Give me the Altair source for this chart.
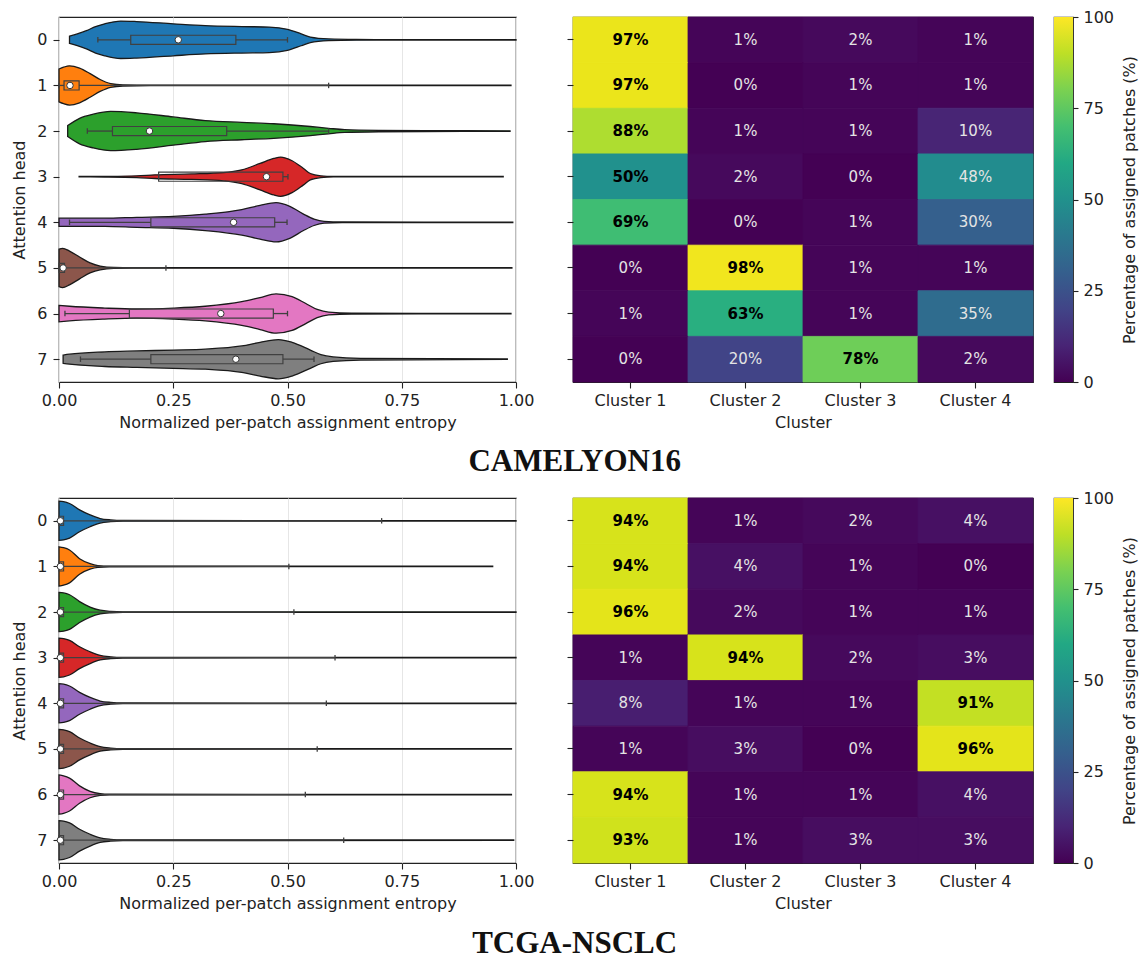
import altair as alt
import pandas as pd

# ---------------- data ----------------
heads = [0, 1, 2, 3, 4, 5, 6, 7]
head_colors = ["#1f77b4", "#ff7f0e", "#2ca02c", "#d62728",
               "#9467bd", "#8c564b", "#e377c2", "#7f7f7f"]
clusters = ["Cluster 1", "Cluster 2", "Cluster 3", "Cluster 4"]

# heatmap: percentage of assigned patches (row = attention head)
cam_pct = [[97, 1, 2, 1], [97, 0, 1, 1], [88, 1, 1, 10], [50, 2, 0, 48],
           [69, 0, 1, 30], [0, 98, 1, 1], [1, 63, 1, 35], [0, 20, 78, 2]]
tcga_pct = [[94, 1, 2, 4], [94, 4, 1, 0], [96, 2, 1, 1], [1, 94, 2, 3],
            [8, 1, 1, 91], [1, 3, 0, 96], [94, 1, 1, 4], [93, 1, 3, 3]]

# violin outlines (entropy value, half width in head units)
cam_vx = [
    [0.023, 0.04, 0.06, 0.08, 0.10, 0.135, 0.17, 0.25, 0.32, 0.40, 0.46, 0.50, 0.53, 0.55, 0.59, 0.65, 0.75, 1.0],
    [0.0, 0.01, 0.023, 0.045, 0.068, 0.09, 0.113, 0.14, 0.2, 0.989],
    [0.019, 0.045, 0.075, 0.113, 0.17, 0.25, 0.32, 0.40, 0.47, 0.55, 0.59, 0.625, 0.70, 0.80, 0.987],
    [0.044, 0.10, 0.17, 0.21, 0.29, 0.36, 0.40, 0.44, 0.47, 0.485, 0.51, 0.535, 0.55, 0.573, 0.60, 0.972],
    [0.0, 0.05, 0.10, 0.17, 0.25, 0.32, 0.40, 0.44, 0.475, 0.505, 0.535, 0.558, 0.58, 0.62, 0.993],
    [0.0, 0.008, 0.023, 0.045, 0.068, 0.09, 0.12, 0.16, 0.991],
    [0.0, 0.023, 0.10, 0.17, 0.25, 0.32, 0.40, 0.44, 0.475, 0.51, 0.54, 0.565, 0.59, 0.64, 0.989],
    [0.009, 0.023, 0.10, 0.17, 0.25, 0.32, 0.40, 0.44, 0.48, 0.51, 0.55, 0.573, 0.60, 0.66, 0.981],
]
cam_vw = [
    [0.08, 0.13, 0.20, 0.29, 0.35, 0.41, 0.40, 0.35, 0.31, 0.29, 0.28, 0.23, 0.13, 0.06, 0.02, 0.008, 0.005, 0.005],
    [0.36, 0.40, 0.43, 0.38, 0.26, 0.13, 0.04, 0.012, 0.005, 0.004],
    [0.12, 0.28, 0.37, 0.43, 0.40, 0.31, 0.23, 0.19, 0.16, 0.10, 0.06, 0.03, 0.015, 0.01, 0.005],
    [0.005, 0.008, 0.02, 0.04, 0.06, 0.09, 0.15, 0.29, 0.40, 0.43, 0.35, 0.18, 0.07, 0.02, 0.006, 0.004],
    [0.09, 0.09, 0.09, 0.11, 0.13, 0.18, 0.28, 0.37, 0.43, 0.35, 0.18, 0.07, 0.02, 0.008, 0.004],
    [0.41, 0.43, 0.37, 0.24, 0.11, 0.04, 0.01, 0.005, 0.004],
    [0.18, 0.16, 0.12, 0.10, 0.12, 0.16, 0.26, 0.35, 0.43, 0.37, 0.22, 0.09, 0.03, 0.01, 0.004],
    [0.09, 0.11, 0.16, 0.18, 0.20, 0.22, 0.29, 0.37, 0.43, 0.37, 0.20, 0.10, 0.05, 0.02, 0.004],
]
cam_wlo = [0.085, 0.0, 0.062, 0.218, 0.023, 0.0, 0.013, 0.047]
cam_q1 = [0.157, 0.011, 0.117, 0.218, 0.201, 0.0, 0.154, 0.201]
cam_med = [0.261, 0.024, 0.198, 0.454, 0.382, 0.009, 0.354, 0.387]
cam_q3 = [0.387, 0.044, 0.367, 0.49, 0.472, 0.012, 0.469, 0.49]
cam_whi = [0.50, 0.59, 0.59, 0.501, 0.499, 0.234, 0.50, 0.558]

tcga_vx = [
    [0.0, 0.01, 0.023, 0.045, 0.068, 0.09, 0.113, 0.14, 1.0],
    [0.0, 0.01, 0.023, 0.045, 0.068, 0.085, 0.11, 0.949],
    [0.0, 0.01, 0.023, 0.045, 0.068, 0.09, 0.113, 0.14, 1.0],
    [0.0, 0.01, 0.023, 0.045, 0.068, 0.09, 0.113, 0.14, 1.0],
    [0.0, 0.01, 0.023, 0.045, 0.068, 0.09, 0.113, 0.14, 1.0],
    [0.0, 0.01, 0.023, 0.045, 0.068, 0.09, 0.113, 0.14, 0.99],
    [0.0, 0.01, 0.023, 0.045, 0.068, 0.09, 0.11, 0.99],
    [0.0, 0.01, 0.023, 0.045, 0.068, 0.09, 0.113, 0.14, 0.995],
]
tcga_vw = [
    [0.43, 0.42, 0.38, 0.24, 0.13, 0.05, 0.02, 0.008, 0.004],
    [0.43, 0.41, 0.36, 0.17, 0.06, 0.02, 0.007, 0.004],
    [0.43, 0.42, 0.38, 0.23, 0.11, 0.04, 0.015, 0.006, 0.004],
    [0.43, 0.42, 0.38, 0.24, 0.13, 0.05, 0.02, 0.008, 0.004],
    [0.43, 0.42, 0.38, 0.24, 0.13, 0.05, 0.02, 0.008, 0.004],
    [0.43, 0.42, 0.38, 0.24, 0.13, 0.05, 0.02, 0.008, 0.004],
    [0.43, 0.41, 0.36, 0.19, 0.07, 0.02, 0.008, 0.004],
    [0.43, 0.42, 0.38, 0.24, 0.13, 0.05, 0.02, 0.008, 0.004],
]
tcga_wlo = [0.0, 0.0, 0.0, 0.0, 0.0, 0.0, 0.0, 0.0]
tcga_q1 = [0.0, 0.0, 0.0, 0.0, 0.0, 0.0, 0.0, 0.0]
tcga_med = [0.003, 0.003, 0.003, 0.003, 0.003, 0.003, 0.003, 0.003]
tcga_q3 = [0.01, 0.01, 0.01, 0.01, 0.01, 0.01, 0.01, 0.01]
tcga_whi = [0.706, 0.503, 0.514, 0.604, 0.585, 0.565, 0.539, 0.623]

viridis_stops = ["#440154", "#482475", "#414487", "#355f8d", "#2a788e", "#21918c",
                 "#22a884", "#44bf70", "#7ad151", "#bddf26", "#fde725"]

# ---------------- style ----------------
PLOT_H = 365
VIOLIN_W = 457
HEAT_W = 460
CBAR_W = 19
BOX_HALF = 0.1
CAP_HALF = 0.06
INK = "#222222"
FONT = "DejaVu Sans"


def violin_panel(vx, vw, wlo, q1, med, q3, whi):
    rows = []
    for h in heads:
        for x, w in zip(vx[h], vw[h]):
            rows.append({"head": h, "x": x, "lo": h - w, "hi": h + w})
    vdf = pd.DataFrame(rows)
    bdf = pd.DataFrame({"head": heads, "wlo": wlo, "q1": q1, "med": med, "q3": q3, "whi": whi})
    bdf["blo"] = bdf["head"] - BOX_HALF
    bdf["bhi"] = bdf["head"] + BOX_HALF
    bdf["clo"] = bdf["head"] - CAP_HALF
    bdf["chi"] = bdf["head"] + CAP_HALF

    xscale = alt.Scale(domain=[0, 1], nice=False, zero=False)
    yscale = alt.Scale(domain=[-0.5, 7.5], reverse=True, nice=False, zero=False)
    xaxis = alt.Axis(values=[0, 0.25, 0.5, 0.75, 1], format=".2f",
                     title="Normalized per-patch assignment entropy",
                     grid=True, gridColor="#e6e6e6", gridWidth=1, domain=False,
                     labelFlush=False, labelOverlap=False)
    yaxis = alt.Axis(values=heads, format="d", title="Attention head", grid=False,
                     domain=False, labelPadding=6, titlePadding=9)

    area = alt.Chart(vdf).mark_area(orient="vertical", interpolate="monotone",
                                    stroke="#1a1a1a", strokeWidth=1.3, opacity=1).encode(
        x=alt.X("x:Q", scale=xscale, axis=xaxis),
        y=alt.Y("lo:Q", scale=yscale, axis=yaxis),
        y2="hi:Q",
        color=alt.Color("head:N", scale=alt.Scale(domain=heads, range=head_colors), legend=None),
    )
    base = alt.Chart(bdf)
    wh_lo = base.mark_rule(color="#404040", strokeWidth=1.3).encode(
        x=alt.X("wlo:Q", scale=xscale, axis=xaxis), x2="q1:Q",
        y=alt.Y("head:Q", scale=yscale, axis=yaxis))
    wh_hi = base.mark_rule(color="#404040", strokeWidth=1.3).encode(
        x=alt.X("q3:Q", scale=xscale, axis=xaxis), x2="whi:Q",
        y=alt.Y("head:Q", scale=yscale, axis=yaxis))
    cap_lo = base.mark_rule(color="#404040", strokeWidth=1.3).encode(
        x=alt.X("wlo:Q", scale=xscale, axis=xaxis),
        y=alt.Y("clo:Q", scale=yscale, axis=yaxis), y2="chi:Q")
    cap_hi = base.mark_rule(color="#404040", strokeWidth=1.3).encode(
        x=alt.X("whi:Q", scale=xscale, axis=xaxis),
        y=alt.Y("clo:Q", scale=yscale, axis=yaxis), y2="chi:Q")
    box = base.mark_rect(fill="transparent", stroke="#404040", strokeWidth=1.2).encode(
        x=alt.X("q1:Q", scale=xscale, axis=xaxis), x2="q3:Q",
        y=alt.Y("blo:Q", scale=yscale, axis=yaxis), y2="bhi:Q")
    medpt = base.mark_point(shape="circle", filled=True, fill="white", stroke="#333333",
                            strokeWidth=1, size=42, opacity=1).encode(
        x=alt.X("med:Q", scale=xscale, axis=xaxis),
        y=alt.Y("head:Q", scale=yscale, axis=yaxis))
    return alt.layer(area, wh_lo, wh_hi, cap_lo, cap_hi, box, medpt).properties(
        width=VIOLIN_W, height=PLOT_H)


def heat_panel(pct):
    rows = [{"head": h, "cluster": clusters[c], "v": pct[h][c], "label": f"{pct[h][c]}%"}
            for h in heads for c in range(4)]
    df = pd.DataFrame(rows)
    base = alt.Chart(df).encode(
        x=alt.X("cluster:N", sort=clusters, scale=alt.Scale(paddingInner=0, paddingOuter=0),
                axis=alt.Axis(labelAngle=0, title="Cluster", domain=False)),
        y=alt.Y("head:O", sort=heads, scale=alt.Scale(paddingInner=0, paddingOuter=0),
                axis=alt.Axis(labels=False, title=None, domain=False)),
    )
    vscale = alt.Scale(scheme="viridis", domain=[0, 100])
    rect = base.mark_rect(strokeWidth=0.8).encode(
        color=alt.Color("v:Q", scale=vscale, legend=None),
        stroke=alt.Stroke("v:Q", scale=vscale, legend=None))
    dark = base.transform_filter("datum.v >= 50").mark_text(
        font=FONT, fontSize=15, fontWeight="bold", color="#000000").encode(text="label:N")
    light = base.transform_filter("datum.v < 50").mark_text(
        font=FONT, fontSize=15, color="#e4e4e4").encode(text="label:N")
    return alt.layer(rect, dark, light).properties(width=HEAT_W, height=PLOT_H)


def colorbar():
    df = pd.DataFrame({"lo": [0], "hi": [100]})
    n = len(viridis_stops) - 1
    grad = alt.LinearGradient(
        gradient="linear",
        stops=[alt.GradientStop(color=c, offset=i / n) for i, c in enumerate(viridis_stops)],
        x1=0, x2=0, y1=1, y2=0)
    return alt.Chart(df).mark_rect(fill=grad).encode(
        x=alt.value(0), x2=alt.value(CBAR_W),
        y=alt.Y("lo:Q", scale=alt.Scale(domain=[0, 100], nice=False, zero=False),
                axis=alt.Axis(orient="right", values=[0, 25, 50, 75, 100], format="d",
                              title="Percentage of assigned patches (%)", titleAngle=270,
                              titleBaseline="top", titlePadding=8, tickSize=5,
                              labelPadding=5, domain=False, grid=False)),
        y2="hi:Q",
    ).properties(width=CBAR_W, height=PLOT_H)


def row(vx, vw, wlo, q1, med, q3, whi, pct, name, title_offset):
    right = alt.hconcat(heat_panel(pct), colorbar(), spacing=19).resolve_scale(
        color="independent", stroke="independent")
    return alt.hconcat(violin_panel(vx, vw, wlo, q1, med, q3, whi), right, spacing=30).resolve_scale(
        color="independent", stroke="independent").properties(
        title=alt.TitleParams(name, orient="bottom", anchor="middle", font="Liberation Serif",
                              fontSize=31, fontWeight="bold", color="#111111",
                              offset=title_offset))


row1 = row(cam_vx, cam_vw, cam_wlo, cam_q1, cam_med, cam_q3, cam_whi, cam_pct, "CAMELYON16", 16)
row2 = row(tcga_vx, tcga_vw, tcga_wlo, tcga_q1, tcga_med, tcga_q3, tcga_whi, tcga_pct, "TCGA-NSCLC", 17)

chart = alt.vconcat(row1, row2, spacing=12).resolve_scale(
    color="independent", stroke="independent").properties(
    padding={"left": 11, "top": 8, "right": 0, "bottom": 0},
    background="white",
).configure_view(stroke=INK, strokeWidth=1.2).configure_axis(
    labelFont=FONT, labelFontSize=16, titleFont=FONT, titleFontSize=16, titleFontWeight="normal",
    labelColor=INK, titleColor=INK, tickColor=INK, tickSize=6, tickWidth=1.1,
    labelPadding=4, titlePadding=6,
)

chart.save("out.html", embed_options={"renderer": "svg", "actions": False})
